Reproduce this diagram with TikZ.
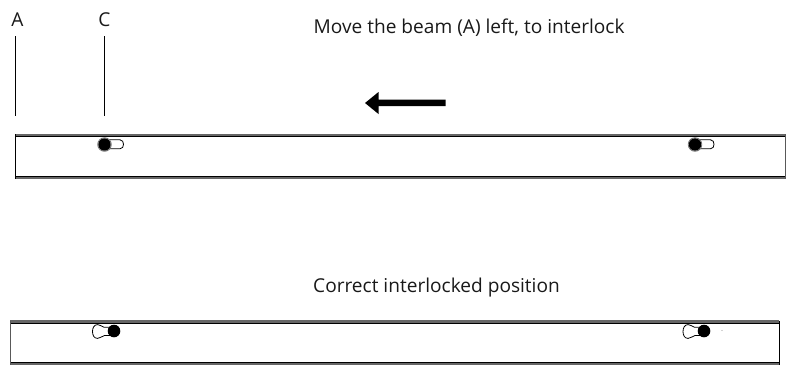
\documentclass[tikz,border=0pt]{standalone}
\usepackage{fontspec}
\setmainfont{Open Sans}
\tikzset{
  lab/.style={inner sep=0pt,font=\fontsize{19.1}{22}\selectfont,text=black!90},
  band/.style={fill=black!60,draw=none},
  inner line/.style={draw=black,line width=0.8pt},
  wall/.style={draw=black!65,line width=1pt},
  leader/.style={draw=black,line width=0.7pt},
  slot/.style={draw=black,line width=0.8pt,fill=white},
  pin/.style={fill=black,draw=none},
  halo/.style={draw=black!55,line width=0.8pt,fill=white},
  bigarrow/.style={fill=black,draw=none}
}
\begin{document}
\begin{tikzpicture}[x=1pt,y=-1pt]
\useasboundingbox (0,0) rectangle (794,365);
% labels
\node[lab,anchor=base] (A) at (17.5,26) {A};
\node[lab,anchor=base] (C) at (104.5,26) {C};
\node[lab,anchor=base west] (t1) at (313.5,33) {Move the beam (A) left, to interlock};
\node[lab,anchor=base west] (t2) at (313,292) {Correct interlocked position};
\coordinate (Astart) at (15.5,36);
\coordinate (Cstart) at (104.3,36);
\coordinate (Aend) at (15.5,115.5);
\coordinate (Cend) at (104.3,115.5);
\draw[leader] (Astart) -- (Aend);
\draw[leader] (Cstart) -- (Cend);
% arrow
\fill[bigarrow] (445.5,99.5) -- (378.5,99.5) -- (378.5,92) -- (365,103) -- (378.5,114) -- (378.5,106) -- (445.5,106) -- cycle;
% top beam
\fill[band] (15.5,133.8) rectangle (785.5,136.2);
\fill[band] (15.5,177) rectangle (785.5,179.4);
\draw[inner line] (15.5,136.6) -- (785.5,136.6);
\draw[inner line] (15.5,176.6) -- (785.5,176.6);
\draw[wall,draw=black] (15.5,134) -- (15.5,179);
\draw[wall] (785.5,134) -- (785.5,179);
% top keyholes
\foreach \x/\e in {104.5/123.5,695/714}{
  \draw[slot] (\x,139.8) -- ({\e-3.5},139.8) .. controls ({\e-1},139.8) and (\e,142) .. (\e,144.3) .. controls (\e,146.6) and ({\e-1},148.8) .. ({\e-3.5},148.8) -- (\x,148.8);
  \draw[halo] (\x,144.5) circle[radius=6.8];
  \fill[pin] (\x,144.5) circle[radius=6.2];
  \fill[pin] (\x,139.8) rectangle ({\x+3.5},148.8);
}
% bottom beam
\fill[band] (10,320.4) rectangle (779,323);
\fill[band] (10,363) rectangle (779,365);
\draw[inner line] (10,323.6) -- (779,323.6);
\draw[inner line] (10,362.6) -- (779,362.6);
\draw[wall] (10,321) -- (10,365);
\draw[wall,draw=black] (779,321) -- (779,365);
% bottom keyholes
\foreach \l/\p in {92.5/114,683/704}{
  \draw[slot] ({\l+11.5},327.2) .. controls ({\l+8},325.5) and ({\l+6},324.6) .. ({\l+5},324.6)
     .. controls ({\l+1.5},324.6) and (\l,328) .. (\l,331.5)
     .. controls (\l,335) and ({\l+1.5},338.4) .. ({\l+5},338.4)
     .. controls ({\l+7},338.4) and ({\l+9},336.5) .. ({\l+12},335.5) -- (\p,335.5) -- (\p,327.2) -- cycle;
  \fill[pin] (\p,331) circle[radius=6.3];
  \fill[pin] ({\p-3.5},326.6) rectangle (\p,335.6);
}
\fill[black!35] (722,330.5) circle[radius=0.6];
\end{tikzpicture}
\end{document}
